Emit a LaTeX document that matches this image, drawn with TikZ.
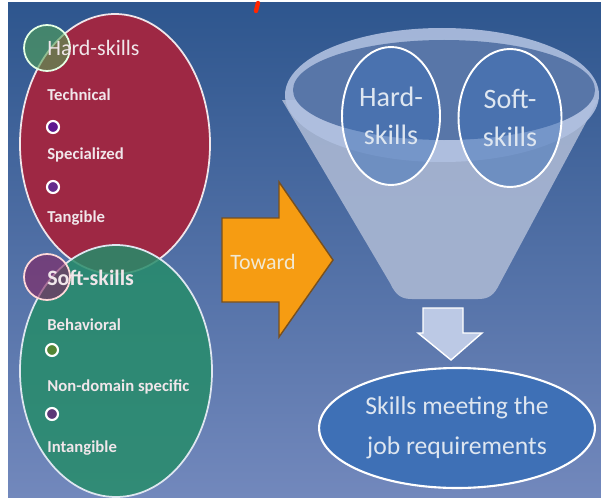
\documentclass[tikz,border=0pt]{standalone}
\usepackage{fontspec}
\setmainfont{Carlito}
\usetikzlibrary{shapes.geometric}

\definecolor{bgtop}{RGB}{46,86,142}
\definecolor{bgbot}{RGB}{114,136,188}
\definecolor{hardred}{RGB}{158,40,68}
\definecolor{softgreen}{RGB}{38,140,106}
\definecolor{towardorange}{RGB}{246,156,18}
\definecolor{towardedge}{RGB}{120,80,30}
\definecolor{funnelgray}{RGB}{168,182,210}
\definecolor{rimgray}{RGB}{176,192,224}
\definecolor{rimblue}{RGB}{88,118,168}
\definecolor{resultblue}{RGB}{62,112,182}
\definecolor{lighttext}{RGB}{240,230,234}
\definecolor{paletext}{RGB}{222,230,240}

\tikzset{
  title/.style={anchor=west, inner sep=0pt, text=lighttext, font=\fontsize{12.5}{14}\selectfont},
  item/.style={anchor=west, inner sep=0pt, text=lighttext, font=\fontsize{9.5}{11}\selectfont\bfseries},
  marker/.style={draw=white, line width=1.2pt},
  bubble/.style={ellipse, draw=white, line width=1.1pt, fill=resultblue, fill opacity=0.5,
    text opacity=1, text=paletext, align=center, inner sep=0pt,
    minimum width=1.96cm, minimum height=2.76cm, font=\fontsize{16}{21.5}\selectfont}
}

\begin{document}
\begin{tikzpicture}[x=0.02cm, y=-0.02cm]
	\useasboundingbox (0,0) rectangle (601,500);
	\shade[top color=bgtop, bottom color=bgbot] (8,3) rectangle (601,497);
	% left side: the two skill ellipses
	\draw[fill=hardred, draw=lighttext, line width=1pt] (115,144) ellipse [x radius=95, y radius=130];
	\draw[fill=softgreen, fill opacity=0.85, draw=paletext, line width=1pt] (116,371) ellipse [x radius=96, y radius=126];
	\draw[fill=softgreen!80!yellow, fill opacity=0.6, draw=green!10, line width=1pt] (47,48) circle (23);
	\draw[fill=hardred!85!blue, fill opacity=0.6, draw=red!15, line width=1pt] (47,277) circle (23);
	\draw[marker, fill=hardred!60!blue] (53,127) circle (6);
	\draw[marker, fill=hardred!60!blue!80!gray] (53,187) circle (6);
	\draw[marker, fill=softgreen!50!olive] (52,350) circle (6);
	\draw[marker, fill=softgreen!40!violet] (52,414) circle (6);
	\node[title] (hard) at (47,48) {Hard-skills};
	\node[item] (tech) at (47,95) {Technical};
	\node[item] (spec) at (47,155) {Specialized};
	\node[item] (tang) at (47,218) {Tangible};
	\node[title, font=\fontsize{12.5}{14}\selectfont\bfseries] (soft) at (47,278) {Soft-skills};
	\node[item] (behav) at (47,325) {Behavioral};
	\node[item] (nondom) at (47,387) {Non-domain specific};
	\node[item] (intang) at (47,448) {Intangible};
	% middle arrow
	\draw[fill=towardorange, draw=towardedge, line width=0.8pt]
		(222,218) -- (279,218) -- (279,182) -- (333,260) -- (279,337) -- (279,302) -- (222,302) -- cycle;
	\node[text=lighttext!90!yellow, font=\fontsize{12.5}{14}\selectfont] (toward) at (263,262) {Toward};
	% funnel
	\fill[funnelgray, fill opacity=0.92] (282,100) -- (390,283)
		.. controls (396,296) and (402,299) .. (412,299) -- (478,299)
		.. controls (488,299) and (494,296) .. (500,283) -- (598,100) -- cycle;
	\fill[rimgray, fill opacity=0.9] (442,95) ellipse [x radius=157, y radius=67];
	\fill[rimblue] (444,90) ellipse [x radius=151, y radius=50];
	\node[bubble] (hardin) at (391,116) {Hard-\\skills};
	\node[bubble, minimum width=2.06cm] (softin) at (510,118) {Soft-\\skills};
	% result
	\draw[fill=rimgray!85!white, draw=white, line width=0.8pt]
		(423,308) -- (463,308) -- (463,333) -- (482,333) -- (451,360) -- (418,333) -- (423,333) -- cycle;
	\node[ellipse, draw=white, line width=1.2pt, fill=resultblue, text=paletext, align=center,
		minimum width=5.44cm, minimum height=2.4cm, font=\fontsize{14.6}{22.7}\selectfont]
		(result) at (457,428) {Skills meeting the\\job requirements};
	\draw[red!70!orange, line width=2.5pt, line cap=round] (258,3) -- (256,11);
\end{tikzpicture}
\end{document}
